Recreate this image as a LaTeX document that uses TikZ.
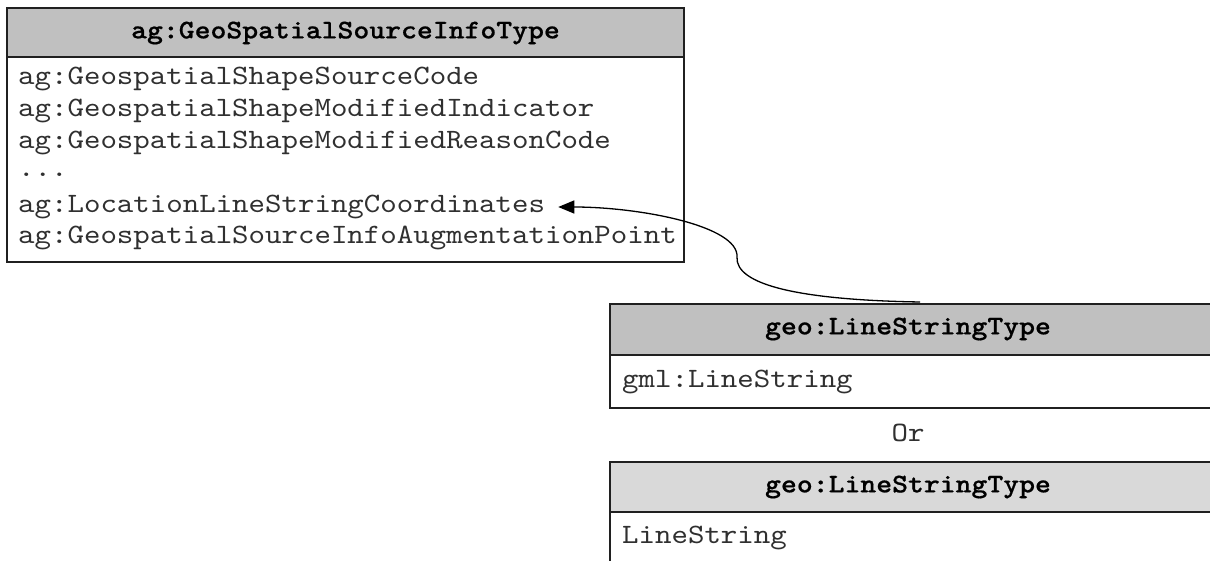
\documentclass[tikz,border=0pt]{standalone}
\usepackage{fontspec}
\setmonofont{lmmono10-regular.otf}[BoldFont=lmmonolt10-bold.otf, BoldFeatures={FakeBold=0.6}, FakeStretch=1.12]
\usetikzlibrary{arrows.meta,calc}
\definecolor{hdrdark}{HTML}{C0C0C0}
\definecolor{hdrlight}{HTML}{D9D9D9}
\definecolor{bordercol}{HTML}{202020}
\definecolor{txtcol}{HTML}{303030}
\begin{document}
\begin{tikzpicture}[x=1pt,y=1pt,
  boxline/.style={draw=bordercol,line width=1.5pt},
  title/.style={font=\ttfamily\bfseries\fontsize{27}{30}\selectfont,text=black,inner sep=0pt},
  item/.style={font=\ttfamily\fontsize{28}{30}\selectfont,text=txtcol,anchor=west,inner sep=0pt},
  conn/.style={line width=1.3pt,-{Triangle[length=16pt,width=13pt]}}
]
\useasboundingbox (0,0) rectangle (1210,-561);
\clip (0,0) rectangle (1210,-561);
\fill[white] (0,0) rectangle (1210,-561);
% Box A
\fill[hdrdark] (7,-8) rectangle (684,-57);
\draw[boxline] (7,-8) rectangle (684,-262);
\draw[boxline] (7,-57) -- (684,-57);
\node[title] (tA) at (345.5,-33) {ag:GeoSpatialSourceInfoType};
\node[item] (a1) at (18,-79) {ag:GeospatialShapeSourceCode};
\node[item] (a2) at (18,-111) {ag:GeospatialShapeModifiedIndicator};
\node[item] (a3) at (18,-143) {ag:GeospatialShapeModifiedReasonCode};
\node[item] (a4) at (18,-175) {...};
\node[item] (a5) at (18,-207) {ag:LocationLineStringCoordinates};
\node[item] (a6) at (18,-238) {ag:GeospatialSourceInfoAugmentationPoint};
% Box B
\fill[hdrdark] (610,-304) rectangle (1220,-355);
\draw[boxline] (1220,-304) -- (610,-304) -- (610,-408) -- (1220,-408);
\draw[boxline] (610,-355) -- (1220,-355);
\node[title] (tB) at (908,-329) {geo:LineStringType};
\node[item] (b1) at (622,-382) {gml:LineString};
% Or
\node[item,anchor=center] (or) at (908,-433) {Or};
% Box C
\fill[hdrlight] (610,-462) rectangle (1220,-512);
\draw[boxline] (1220,-462) -- (610,-462) -- (610,-570);
\draw[boxline] (610,-512) -- (1220,-512);
\node[title] (tC) at (908,-487) {geo:LineStringType};
\node[item] (c1) at (622,-538) {LineString};
% connector
\coordinate (cs) at (920,-302);
\draw[conn] (cs) .. controls (800,-300) and (735,-285) .. (737,-257)
  .. controls (739,-226) and (640,-207) .. ($(a5.east)+(13,0)$);
\end{tikzpicture}
\end{document}
